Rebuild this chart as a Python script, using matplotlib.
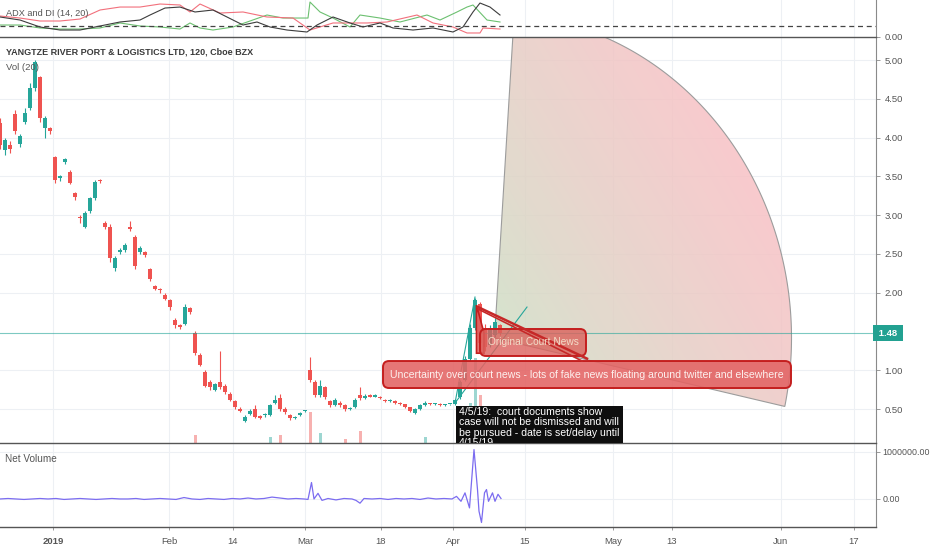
import numpy as np
import matplotlib
matplotlib.use("Agg")
import matplotlib.pyplot as plt
from matplotlib.patches import Rectangle, Polygon, FancyBboxPatch

plt.rcParams['font.family'] = ['Liberation Sans Narrow', 'Liberation Sans', 'DejaVu Sans']

# ==========================================
# DATA (120 min bars, x = bar index)
# ==========================================
OPEN = [4.19, 3.84, 3.90, 4.30, 3.92, 4.20, 4.38, 4.64, 4.78, 4.13,
        4.12, 3.75, 3.48, 3.68, 3.55, 3.28, 2.98, 2.85, 3.05, 3.22,
        3.45, 2.90, 2.85, 2.32, 2.52, 2.55, 2.85, 2.72, 2.52, 2.52,
        2.30, 2.08, 2.05, 1.97, 1.90, 1.65, 1.58, 1.60, 1.80, 1.48,
        1.20, 0.98, 0.85, 0.75, 0.85, 0.80, 0.70, 0.60, 0.50, 0.34,
        0.43, 0.50, 0.40, 0.42, 0.42, 0.58, 0.64, 0.50, 0.42, 0.38,
        0.42, 0.47, 1.00, 0.85, 0.68, 0.78, 0.60, 0.55, 0.58, 0.55,
        0.50, 0.52, 0.68, 0.64, 0.68, 0.66, 0.66, 0.62, 0.60, 0.60,
        0.58, 0.56, 0.52, 0.45, 0.50, 0.55, 0.57, 0.56, 0.57, 0.55,
        0.56, 0.56, 0.65, 0.88, 1.15, 1.55, 1.85, 1.55, 1.32, 1.45,
        1.58]
CLOSE = [3.90, 3.97, 3.85, 4.08, 4.02, 4.32, 4.64, 4.98, 4.25, 4.25,
         4.08, 3.45, 3.50, 3.72, 3.42, 3.24, 2.96, 3.03, 3.22, 3.43,
         3.44, 2.85, 2.45, 2.45, 2.55, 2.62, 2.82, 2.35, 2.58, 2.48,
         2.18, 2.05, 2.03, 1.92, 1.82, 1.58, 1.56, 1.82, 1.75, 1.22,
         1.07, 0.80, 0.78, 0.82, 0.78, 0.72, 0.62, 0.52, 0.48, 0.40,
         0.48, 0.40, 0.39, 0.43, 0.55, 0.62, 0.50, 0.46, 0.38, 0.40,
         0.45, 0.48, 0.87, 0.68, 0.80, 0.65, 0.55, 0.62, 0.55, 0.50,
         0.51, 0.62, 0.64, 0.67, 0.66, 0.67, 0.64, 0.60, 0.62, 0.58,
         0.56, 0.52, 0.47, 0.50, 0.55, 0.58, 0.56, 0.57, 0.55, 0.56,
         0.56, 0.62, 0.85, 1.15, 1.55, 1.90, 1.35, 1.30, 1.55, 1.62,
         1.48]
HIGH = [4.25, 4.00, 3.95, 4.35, 4.05, 4.38, 4.70, 5.00, 4.80, 4.28,
        4.14, 3.76, 3.52, 3.74, 3.58, 3.30, 3.00, 3.05, 3.24, 3.45,
        3.47, 2.92, 2.88, 2.47, 2.57, 2.64, 2.92, 2.75, 2.60, 2.54,
        2.32, 2.10, 2.06, 1.99, 1.92, 1.67, 1.60, 1.85, 1.82, 1.50,
        1.22, 1.00, 0.87, 0.84, 1.25, 0.82, 0.72, 0.62, 0.52, 0.42,
        0.50, 0.55, 0.42, 0.45, 0.57, 0.68, 0.70, 0.52, 0.43, 0.41,
        0.46, 0.49, 1.17, 0.87, 0.88, 0.80, 0.62, 0.64, 0.60, 0.56,
        0.52, 0.64, 0.78, 0.69, 0.70, 0.69, 0.67, 0.63, 0.63, 0.61,
        0.59, 0.57, 0.53, 0.51, 0.56, 0.60, 0.58, 0.58, 0.58, 0.57,
        0.57, 0.63, 0.87, 1.18, 1.60, 1.93, 1.88, 1.60, 1.58, 1.68,
        1.60]
LOW = [3.85, 3.78, 3.80, 4.05, 3.88, 4.18, 4.35, 4.60, 4.20, 4.00,
       4.05, 3.42, 3.44, 3.66, 3.40, 3.20, 2.90, 2.83, 3.03, 3.20,
       3.42, 2.82, 2.40, 2.28, 2.50, 2.53, 2.80, 2.30, 2.50, 2.46,
       2.15, 2.03, 2.00, 1.90, 1.78, 1.55, 1.53, 1.58, 1.73, 1.20,
       1.05, 0.78, 0.75, 0.73, 0.76, 0.70, 0.60, 0.50, 0.46, 0.33,
       0.42, 0.38, 0.37, 0.40, 0.41, 0.56, 0.48, 0.44, 0.36, 0.37,
       0.41, 0.46, 0.85, 0.66, 0.66, 0.63, 0.53, 0.54, 0.53, 0.48,
       0.49, 0.51, 0.62, 0.63, 0.65, 0.65, 0.63, 0.59, 0.59, 0.57,
       0.55, 0.51, 0.46, 0.43, 0.49, 0.54, 0.55, 0.55, 0.54, 0.54,
       0.55, 0.55, 0.63, 0.86, 1.12, 1.52, 1.25, 1.25, 1.30, 1.43,
       1.45]
LAST_PRICE = 1.48

# Vol (20) bars that poke out at the bottom of the price pane (thousand shares)
VOL_BARS = [39, 54, 56, 62, 64, 69, 72, 85, 94, 95, 96, 97, 98]
VOL_VALUES = [95, 71, 95, 366, 118, 47, 142, 71, 473, 1005, 567, 355, 296]
VOL_UP = [False, True, False, False, True, False, False, True, True, True, False, False, True]

# Net Volume
NETVOL_X = [0, 1.6, 3.2, 4.8, 6.4, 8, 9.6, 11.2, 12.8, 14.4, 16, 17.6, 19.2, 20.8,
            22.4, 24, 25.6, 27.2, 28.8, 30.4, 32, 33.6, 35.2, 36.8, 38.4, 40, 41.6,
            43.2, 44.8, 46.4, 48, 49.6, 51.2, 52.8, 54.4, 56, 57.6, 59.2, 60.8,
            61.6, 62.3, 62.8, 63.6, 64.4, 65.6, 67.2, 68.8, 70.4, 71.2, 72, 72.8,
            74.4, 76, 77.6, 79.2, 80.8, 82.4, 84, 85.6, 87.2, 88.8, 90.4,
            91.3, 92.2, 93.0, 93.9, 94.8, 95.5, 95.8, 96.3, 96.9, 97.3, 97.7,
            98.5, 99.0, 99.6, 100.2]
NETVOL_M = [0, 0.01, 0, -0.01, 0, 0.01, 0, 0.01, -0.01, 0, 0.01, 0, -0.01, 0,
            0.01, 0, 0, 0.01, -0.01, 0, 0.01, 0, -0.01, 0.03, 0, -0.01, 0.01,
            0, -0.01, 0.01, 0, 0.02, 0, 0.01, 0.04, 0.02, 0, 0.01, 0,
            -0.01, 0.35, 0.0, 0.12, -0.03, 0.01, -0.02, 0.01, 0, -0.03, -0.09, 0.01,
            0, 0.01, -0.01, 0.01, 0, 0.01, -0.01, 0.02, 0, 0.01, 0,
            0.055, -0.05, 0.13, -0.19, 1.05, 0.2, -0.26, -0.5, 0.13, 0.2, -0.05,
            0.13, -0.05, 0.1, 0.01]

# ADX and DI (14, 20)
DIM_X = [0, 4, 8, 12, 16, 20, 24, 28, 32, 36, 38, 40, 44, 48.6, 53.4, 58.6, 62,
         66.6, 73.4, 77.4, 83.4, 86.6, 90.6, 93.4, 96, 96.6, 100]
DI_MINUS = [38.2, 34.5, 29.1, 29.1, 32.7, 49.1, 54.5, 54.5, 60, 58.2, 45.5, 60,
            43.6, 45.5, 36.4, 34.5, 12.7, 25.5, 25.5, 27.3, 40, 25.5, 18.2, 7.3,
            7.3, 16.4, 14.5]
DIP_X = [0, 4, 8, 12, 16, 20, 24, 28, 32, 36, 38, 40, 42.6, 46.6, 53.4, 56.6, 60,
         61.6, 62, 64, 66.6, 70, 72, 76, 80, 85.4, 88, 91.4, 93.4, 94.6, 97.4, 100]
DI_PLUS = [21.8, 21.8, 16.4, 14.5, 14.5, 16.4, 25.5, 20, 18.2, 14.5, 25.5, 16.4,
           12.7, 18.2, 40, 34.5, 34.5, 34.5, 63.6, 45.5, 34.5, 18.2, 40, 34.5,
           27.3, 40, 30.9, 45.5, 54.5, 58.2, 30.9, 27.3]
ADX_X = [0, 4, 8, 12, 16, 20, 24, 28, 30, 33, 36, 39, 42.6, 46.6, 48.6, 51.4, 54,
         57.4, 61.4, 63.4, 66.6, 70, 72.6, 76, 78.6, 82.6, 86.6, 90.6, 92.6, 94.6,
         96, 98, 100]
ADX = [36.4, 30.9, 18.2, 12.7, 12.7, 20, 27.3, 30.9, 40, 52.7, 54.5, 45.5, 49.1,
       30.9, 21.8, 27.3, 18.2, 12.7, 9.1, 21.8, 36.4, 25.5, 18.2, 25.5, 16.4,
       12.7, 16.4, 9.1, 18.2, 45.5, 61.8, 54.5, 40]
ADX_LEVEL = 20

DATE_TICKS = [10.6, 33.8, 46.6, 61.0, 76.2, 90.6, 105.0, 122.6, 134.4, 156.2, 170.8]
DATE_LABELS = ['2019', 'Feb', '14', 'Mar', '18', 'Apr', '15', 'May', '13', 'Jun', '17']
PRICE_TICKS = [0.5, 1.0, 2.0, 2.5, 3.0, 3.5, 4.0, 4.5, 5.0]

UP = '#26a69a'
DOWN = '#ef5350'
GRID = '#edf0f4'
TXT = '#555555'

# ==========================================
# LAYOUT
# ==========================================
W, H = 932, 550
fig = plt.figure(figsize=(W / 100, H / 100), dpi=100)


def pane(top, bottom, right=876):
    return [0, 1 - bottom / H, right / W, (bottom - top) / H]


ax_adx = fig.add_axes(pane(0, 37))
ax = fig.add_axes(pane(37, 443), sharex=ax_adx)
ax_nv = fig.add_axes(pane(443, 527), sharex=ax_adx)

# volume on its own scale, kept under the price pane
axv = ax.twinx()
axv.set_ylim(0, 4800)
axv.axis('off')
ax.set_zorder(axv.get_zorder() + 1)
ax.patch.set_visible(False)

for a in (ax_adx, ax, ax_nv):
    a.set_xlim(0, 175.2)
    a.yaxis.tick_right()
    a.spines['left'].set_visible(False)
    a.spines['right'].set_visible(True)
    a.spines['right'].set_color('#8a8a8a')
    a.spines['right'].set_linewidth(0.8)
    for s in ('top', 'bottom'):
        a.spines[s].set_color('#555555')
        a.spines[s].set_linewidth(1.0)
    a.tick_params(axis='y', direction='out', length=3, width=0.6, colors='#8a8a8a',
                  labelcolor=TXT, labelsize=6.8, pad=3)
    a.set_xticks(DATE_TICKS)
    a.grid(True, color=GRID, lw=0.8)
    a.set_axisbelow(True)

ax_adx.spines['top'].set_visible(False)
ax_adx.spines['bottom'].set_visible(False)
ax_nv.spines['top'].set_visible(False)
ax_adx.tick_params(axis='x', length=0, labelbottom=False)
ax.tick_params(axis='x', length=0, labelbottom=False)
ax_nv.set_xticklabels(DATE_LABELS)
ax_nv.tick_params(axis='x', length=2, width=0.6, colors='#8a8a8a', labelcolor=TXT,
                  labelsize=6.8, pad=5)
ax_nv.get_xticklabels()[0].set_fontweight('bold')

# ==========================================
# ADX PANE
# ==========================================
ax_adx.set_ylim(0, 67.3)
ax_adx.set_yticks([0])
ax_adx.set_yticklabels(['0.00'])
ax_adx.grid(False, axis='y')
ax_adx.plot(DIP_X, DI_PLUS, color='#6cc070', lw=0.8)
ax_adx.plot(DIM_X, DI_MINUS, color='#f2707c', lw=0.8)
ax_adx.plot(ADX_X, ADX, color='#3c3c3c', lw=0.8)
ax_adx.axhline(ADX_LEVEL, color='#444444', lw=0.9, ls=(0, (4, 3)))

# ==========================================
# PRICE PANE
# ==========================================
ax.set_ylim(0.062, 5.297)
ax.set_yticks(PRICE_TICKS)
ax.set_yticklabels(['%.2f' % p for p in PRICE_TICKS])

axv.bar(VOL_BARS, VOL_VALUES, width=0.6,
        color=[UP if u else DOWN for u in VOL_UP], alpha=0.45)

# pie shaped projection, green at the pivot side fading to pink
cx, cy, ra, rb = 98.9, 1.416, 59.4, 4.177
t = np.radians(np.linspace(86.2, -12.2, 240))
arc = np.column_stack([cx + ra * np.cos(t), cy + rb * np.sin(t)])
verts = np.vstack([[cx, cy], arc, [cx, cy]])
sector = Polygon(verts, closed=True, facecolor='none', edgecolor='#9c9c9c', lw=0.8, zorder=2)
ax.add_patch(sector)
gx = np.linspace(cx - 2, cx + ra + 1, 300)
gy = np.linspace(cy - rb * 0.3, cy + rb + 0.1, 300)
GX, GY = np.meshgrid(gx, gy)
f = np.clip(0.8 * (GX - cx) / ra + 0.5 * (GY - cy) / rb, 0, 1)[..., None] ** 0.8
green = np.array([0.80, 0.88, 0.77])
pink = np.array([0.98, 0.75, 0.77])
img = green * (1 - f) + pink * f
im = ax.imshow(img, extent=(gx[0], gx[-1], gy[0], gy[-1]), origin='lower',
               aspect='auto', alpha=0.85, zorder=1.5, interpolation='bilinear')
im.set_clip_path(sector)

# candles
o, c, h, l = map(np.array, (OPEN, CLOSE, HIGH, LOW))
bx = np.arange(len(o))
col = np.where(c >= o, UP, DOWN)
ax.vlines(bx, l, h, colors=col, lw=0.8, zorder=3)
ax.bar(bx, np.maximum(np.abs(c - o), 0.015), bottom=np.minimum(o, c), width=0.65,
       color=col, zorder=3)

# last price line
ax.axhline(LAST_PRICE, color=UP, lw=0.8, alpha=0.6, zorder=4)
ax.text(1.0, LAST_PRICE, ' %.2f ' % LAST_PRICE, transform=ax.get_yaxis_transform(),
        ha='left', va='center', color='white', fontsize=6.8, fontweight='bold',
        bbox=dict(boxstyle='square,pad=0.35', fc='#22a191', ec='none'), clip_on=False, zorder=8)

# drawings
ax.plot([91, 105.4], [0.578, 1.815], color=UP, lw=0.8, zorder=4)
ax.plot([91, 95], [0.578, 1.944], color=UP, lw=0.8, zorder=4)

box_fc = (0.89, 0.39, 0.39, 0.88)
box_ec = '#c41e1e'
ax.add_patch(Polygon([(95.3, 1.84), (96.8, 1.48), (96.8, 1.22), (95.3, 1.22)],
                     closed=True, fc=box_fc, ec=box_ec, lw=1.2, zorder=5))
ax.add_patch(FancyBboxPatch((96, 1.184), 21.2, 0.348,
                            boxstyle='round,pad=0,rounding_size=1.2', mutation_aspect=0.0645,
                            fc=(0.86, 0.38, 0.36, 0.8), ec=box_ec, lw=1.4, zorder=5))
ax.text(106.6, 1.358, 'Original Court News', ha='center', va='center',
        color='#f3dcc8', fontsize=7.3, zorder=6)
ax.plot([95.6, 117.4], [1.815, 1.150], color='#c62828', lw=1.8, zorder=5.5)
ax.plot([95.6, 116.4], [1.790, 1.120], color='#c62828', lw=1.2, zorder=5.5)

ax.add_patch(FancyBboxPatch((76.6, 0.771), 81.6, 0.348,
                            boxstyle='round,pad=0,rounding_size=1.2', mutation_aspect=0.0645,
                            fc=box_fc, ec=box_ec, lw=1.4, zorder=5))
ax.text(117.4, 0.945,
        'Uncertainty over court news - lots of fake news floating around twitter and elsewhere',
        ha='center', va='center', color='#fdf0ee', fontsize=7.6, zorder=6)

ax.add_patch(Rectangle((91.2, -1.0), 33.4, 1.539, fc='#0e0e0e', ec='none', zorder=6))
ax.text(91.7, 0.528,
        '4/5/19:  court documents show\ncase will not be dismissed and will\n'
        'be pursued - date is set/delay until\n4/15/19',
        ha='left', va='top', color='white', fontsize=7.6, linespacing=1.05,
        clip_on=True, zorder=7)

# ==========================================
# NET VOLUME PANE
# ==========================================
ax_nv.set_ylim(-0.596e6, 1.19e6)
ax_nv.set_yticks([0, 1e6])
ax_nv.set_yticklabels(['0.00', '1000000.00'])
ax_nv.tick_params(axis='y', labelsize=6.4, pad=1.5)
ax_nv.plot(NETVOL_X, np.array(NETVOL_M) * 1e6, color='#7b6cf0', lw=0.9)

# pane titles
fig.text(6 / W, 1 - 52 / H, 'YANGTZE RIVER PORT & LOGISTICS LTD, 120, Cboe BZX',
         fontsize=6.5, fontweight='bold', color='#3a3a3a', va='center')
fig.text(6 / W, 1 - 67 / H, 'Vol (20)', fontsize=6.8, color='#555555', va='center')
fig.text(6 / W, 1 - 14 / H, 'ADX and DI (14, 20)', fontsize=6.6, color='#555555', va='center')
fig.text(5 / W, 1 - 459 / H, 'Net Volume', fontsize=7.2, color='#555555', va='center')

plt.savefig('out.png', dpi=100, facecolor='white')
plt.close()
